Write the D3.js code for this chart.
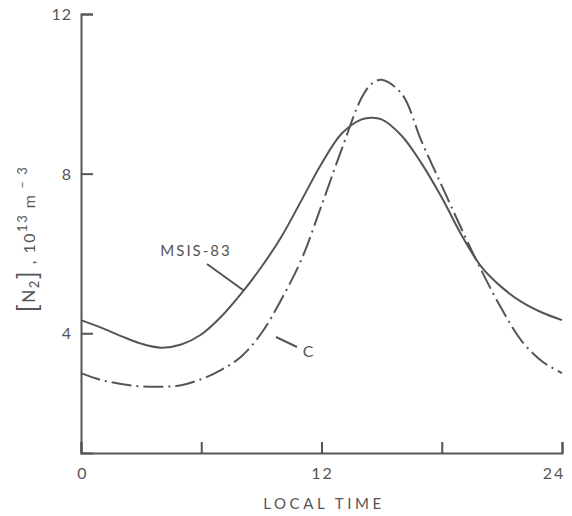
<!DOCTYPE html>
<html>
<head>
<meta charset="utf-8">
<script src="https://cdn.jsdelivr.net/npm/d3@7"></script>
<style>
  html, body { margin: 0; padding: 0; background: #fff; }
  svg { display: block; }
  text { font-family: Lato, "DejaVu Sans", sans-serif; fill: #555; }
</style>
</head>
<body>
<svg id="chart" width="572" height="516"></svg>
<script>
// ---- data ----
const hours = [0, 1, 2, 3, 4, 5, 6, 7, 8, 9, 10, 11, 12, 13, 14, 14.5, 15, 16, 17, 18, 19, 20, 21, 22, 23, 24];
const msis83 = [4.33, 4.14, 3.93, 3.74, 3.64, 3.72, 3.97, 4.42, 5.0, 5.66, 6.42, 7.33, 8.25, 9.0, 9.36, 9.4, 9.36, 8.95, 8.25, 7.4, 6.45, 5.65, 5.15, 4.78, 4.52, 4.33];
const modelC = [3.0, 2.83, 2.73, 2.67, 2.66, 2.7, 2.85, 3.08, 3.42, 4.0, 4.85, 5.85, 7.2, 8.6, 9.9, 10.25, 10.35, 10.0, 8.8, 7.7, 6.6, 5.55, 4.6, 3.8, 3.3, 3.0];
const xTicks = [0, 6, 12, 18, 24];
const xTickLabels = [0, 12, 24];
const yTicks = [4, 8, 12];
const seriesLabels = ["MSIS-83", "C"];

const ink = "#555";
const svg = d3.select("#chart");
const x = d3.scaleLinear().domain([0, 24]).range([81, 562]);
const y = d3.scaleLinear().domain([1, 12]).range([453, 14]);

// axes
const xAxis = d3.axisTop(x).tickValues(xTicks).tickSize(11).tickFormat("");
const gx = svg.append("g").attr("transform", `translate(0,${y(1)})`).call(xAxis);
const yAxis = d3.axisRight(y).tickValues(yTicks).tickSize(12).tickFormat("");
const gy = svg.append("g").attr("transform", `translate(${x(0)},0)`).call(yAxis);
[gx, gy].forEach(g => {
  g.select(".domain").attr("stroke", ink).attr("stroke-width", 2);
  g.selectAll(".tick line").attr("stroke", ink).attr("stroke-width", 2);
});

// tick labels
svg.selectAll(".xl").data(xTickLabels).enter().append("text")
  .attr("x", d => x(d) + (d === 24 ? -8 : d === 0 ? 2 : 1))
  .attr("y", 479)
  .attr("text-anchor", "middle")
  .attr("font-size", 16)
  .attr("letter-spacing", 2)
  .text(d => d);
svg.selectAll(".yl").data(yTicks).enter().append("text")
  .attr("x", 72)
  .attr("y", d => y(d) + 6)
  .attr("text-anchor", "end")
  .attr("font-size", 16)
  .attr("letter-spacing", 1)
  .text(d => d);

// x title
svg.append("text").attr("x", 324).attr("y", 509).attr("text-anchor", "middle")
  .attr("font-size", 15).attr("letter-spacing", 3.6).text("LOCAL TIME");

// y title
const yt = svg.append("text").attr("transform", "translate(35,239) rotate(-90)")
  .attr("text-anchor", "middle").attr("font-size", 16).attr("letter-spacing", 1.5);
yt.append("tspan").attr("font-size", 26).attr("dy", 2).text("[");
yt.append("tspan").attr("font-size", 17).attr("dy", -2).text("N");
yt.append("tspan").attr("font-size", 13).attr("dy", 4).text("2");
yt.append("tspan").attr("font-size", 26).attr("dy", -2).text("]");
yt.append("tspan").attr("dy", -2).text(" ,  10");
yt.append("tspan").attr("font-size", 13).attr("dy", -8).text("13");
yt.append("tspan").attr("dy", 8).text(" m");
yt.append("tspan").attr("font-size", 13).attr("dy", -8).text(" \u2013 3");

// curves
const line = (vals) => d3.line()
  .x((d, i) => x(hours[i]))
  .y(d => y(d))
  .curve(d3.curveCatmullRom.alpha(0.5))(vals);

svg.append("path").attr("d", line(msis83))
  .attr("fill", "none").attr("stroke", ink).attr("stroke-width", 2);
svg.append("path").attr("d", line(modelC))
  .attr("fill", "none").attr("stroke", ink).attr("stroke-width", 2)
  .attr("stroke-dasharray", "20,5,2,5");

// series labels with leaders
svg.append("text").attr("x", 196).attr("y", 256).attr("text-anchor", "middle")
  .attr("font-size", 15).attr("letter-spacing", 2).text(seriesLabels[0]);
svg.append("line").attr("x1", 207).attr("y1", 264).attr("x2", 243).attr("y2", 290)
  .attr("stroke", ink).attr("stroke-width", 2);
svg.append("text").attr("x", 308).attr("y", 357).attr("text-anchor", "middle")
  .attr("font-size", 16).text(seriesLabels[1]);
svg.append("line").attr("x1", 276).attr("y1", 337).attr("x2", 297).attr("y2", 347)
  .attr("stroke", ink).attr("stroke-width", 2);
</script>
</body>
</html>
